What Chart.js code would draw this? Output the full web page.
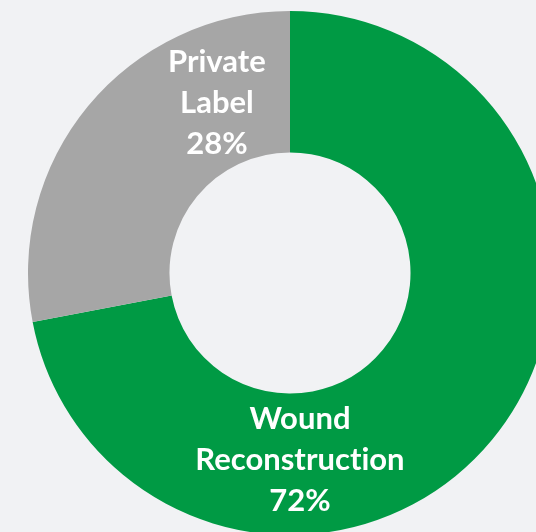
<!DOCTYPE html>
<html>
<head>
<meta charset="utf-8">
<script src="https://cdn.jsdelivr.net/npm/chart.js@4.4.1/dist/chart.umd.min.js"></script>
<style>
  html, body {
    margin: 0;
    padding: 0;
    width: 536px;
    height: 532px;
    overflow: hidden;
    background: #f1f2f4;
  }
  #chartBox {
    position: absolute;
    left: 28px;
    top: 11px;
    width: 524px;
    height: 524px;
  }
</style>
</head>
<body>
<div id="chartBox"><canvas id="donutChart" width="524" height="524"></canvas></div>
<script>
const categories = ["Wound Reconstruction", "Private Label"];
const shares = [72, 28];
const sliceColors = ["#009a44", "#a6a6a6"];

// label anchors as fractions of the outer radius, relative to the centre
const labelOffsets = [
  { dx: 0.038, dy: 0.714 },
  { dx: -0.279, dy: -0.649 }
];

const sliceLabels = {
  id: "sliceLabels",
  afterDatasetsDraw(chart) {
    const ctx = chart.ctx;
    const meta = chart.getDatasetMeta(0);

    meta.data.forEach((arc, index) => {
      const offset = labelOffsets[index];
      const x = arc.x + offset.dx * arc.outerRadius;
      const y = arc.y + offset.dy * arc.outerRadius;
      const lines = categories[index].split(" ");
      lines.push(shares[index] + "%");
      const lineHeight = 41;
      const top = y - ((lines.length - 1) * lineHeight) / 2;

      ctx.save();
      ctx.fillStyle = "#ffffff";
      ctx.font = "bold 31px Lato, 'Open Sans', sans-serif";
      ctx.textRendering = "optimizeSpeed";
      ctx.textAlign = "center";
      ctx.textBaseline = "middle";
      lines.forEach((line, lineIndex) => {
        ctx.fillText(line, x, top + lineIndex * lineHeight);
      });
      ctx.restore();
    });
  }
};

new Chart(document.getElementById("donutChart"), {
  type: "doughnut",
  data: {
    labels: categories,
    datasets: [
      {
        data: shares,
        backgroundColor: sliceColors,
        borderWidth: 0
      }
    ]
  },
  options: {
    responsive: false,
    animation: false,
    cutout: "46%",
    layout: { padding: 0 },
    plugins: {
      legend: { display: false },
      tooltip: { enabled: false }
    }
  },
  plugins: [sliceLabels]
});
</script>
</body>
</html>
